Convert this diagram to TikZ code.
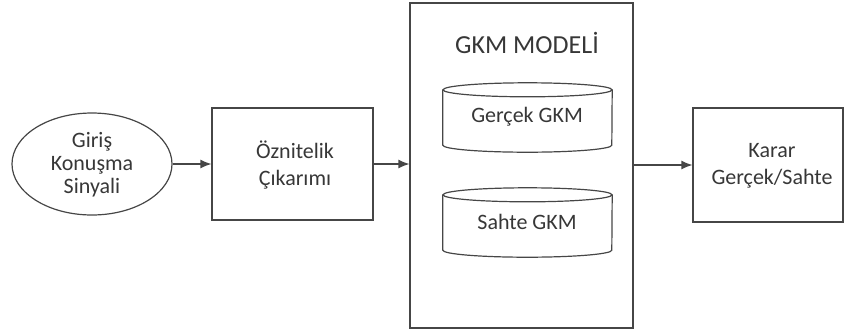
\documentclass[tikz,border=0pt]{standalone}
\usepackage{fontspec}
\setmainfont{Carlito}
\usetikzlibrary{arrows.meta,shapes.geometric}
\definecolor{linec}{RGB}{70,70,70}
\definecolor{textc}{RGB}{55,55,55}
\begin{document}
\begin{tikzpicture}[x=1pt,y=1pt,
  every node/.style={text=textc,font=\fontsize{22}{25}\selectfont,align=center},
  blk/.style={draw=linec,line width=1.2pt,inner sep=0pt},
  cylbody/.style={inner sep=0pt,minimum width=169pt,minimum height=55pt},
  arr/.style={draw=linec,line width=1.2pt,-{Latex[length=11pt,width=9pt]}},
  cyl/.style={draw=linec,line width=1.2pt}]
\useasboundingbox (0,0) rectangle (845,-330);
\node[blk,ellipse,minimum width=160pt,minimum height=102pt] (in) at (92,-164) {};
\node[font=\fontsize{22}{23}\selectfont] at (92,-165) {Giriş\\Konuşma\\Sinyali};
\node[blk,minimum width=161pt,minimum height=112pt] (feat) at (292.5,-164) {};
\node[font=\fontsize{22}{27}\selectfont] at (295,-165) {Öznitelik\\Çıkarımı};
\node[blk,minimum width=223pt,minimum height=325pt] (gkm) at (521.5,-165.5) {};
\node[font=\fontsize{26}{28}\selectfont] (title) at (527,-43) {GKM MODELİ};
\node[cylbody] (c1) at (527.5,-117.5) {};
\node[cylbody] (c2) at (527.5,-222.5) {};
\foreach \c in {c1,c2}{
  \draw[cyl] (\c.north) ellipse [x radius=84.5pt,y radius=7pt];
  \draw[cyl] (\c.north west) -- (\c.south west) arc[start angle=180,end angle=360,x radius=84.5pt,y radius=7pt] -- (\c.north east);
}
\node at (527,-117) {Gerçek GKM};
\node at (527,-222) {Sahte GKM};
\node[blk,minimum width=150pt,minimum height=114pt] (dec) at (768,-165) {};
\node[font=\fontsize{22}{27}\selectfont] at (772,-166) {Karar\\Gerçek/Sahte};
\draw[arr] (in.east) -- (feat.west);
\draw[arr] (feat.east) -- (feat.east -| gkm.west);
\draw[arr] (dec.west -| gkm.east) -- (dec.west);
\end{tikzpicture}
\end{document}
